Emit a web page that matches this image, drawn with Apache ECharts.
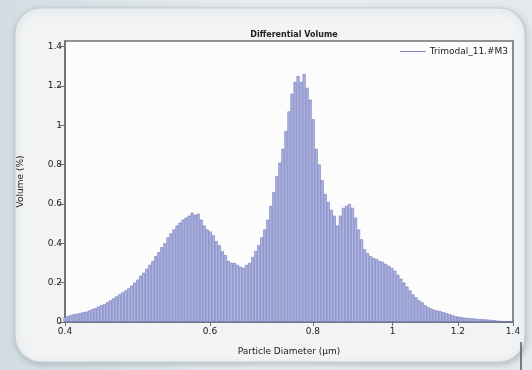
<!DOCTYPE html>
<html>
<head>
<meta charset="utf-8">
<script src="https://cdn.jsdelivr.net/npm/echarts@6/dist/echarts.min.js"></script>
<style>
  html, body { margin: 0; padding: 0; background: #e4eaed; }
  #chart { width: 532px; height: 370px; }
</style>
</head>
<body>
<div id="chart"></div>
<script>
// Bin centres of the size distribution (µm), log-spaced
const diameters = [
  0.4000, 0.4034, 0.4068, 0.4103, 0.4138, 0.4173, 0.4208, 0.4244, 0.4280, 0.4317,
  0.4353, 0.4390, 0.4428, 0.4465, 0.4503, 0.4541, 0.4580, 0.4619, 0.4658, 0.4698,
  0.4738, 0.4778, 0.4819, 0.4860, 0.4901, 0.4942, 0.4984, 0.5027, 0.5070, 0.5113,
  0.5156, 0.5200, 0.5244, 0.5289, 0.5334, 0.5379, 0.5425, 0.5471, 0.5517, 0.5564,
  0.5611, 0.5659, 0.5707, 0.5756, 0.5805, 0.5854, 0.5904, 0.5954, 0.6005, 0.6056,
  0.6107, 0.6159, 0.6211, 0.6264, 0.6317, 0.6371, 0.6425, 0.6480, 0.6535, 0.6590,
  0.6646, 0.6703, 0.6760, 0.6817, 0.6875, 0.6934, 0.6993, 0.7052, 0.7112, 0.7172,
  0.7233, 0.7295, 0.7357, 0.7419, 0.7482, 0.7546, 0.7610, 0.7675, 0.7740, 0.7806,
  0.7872, 0.7939, 0.8007, 0.8075, 0.8143, 0.8212, 0.8282, 0.8353, 0.8424, 0.8495,
  0.8567, 0.8640, 0.8714, 0.8788, 0.8862, 0.8938, 0.9014, 0.9090, 0.9168, 0.9245,
  0.9324, 0.9403, 0.9483, 0.9564, 0.9645, 0.9727, 0.9810, 0.9893, 0.9977, 1.0062,
  1.0147, 1.0234, 1.0321, 1.0408, 1.0497, 1.0586, 1.0676, 1.0767, 1.0858, 1.0951,
  1.1044, 1.1137, 1.1232, 1.1328, 1.1424, 1.1521, 1.1619, 1.1718, 1.1817, 1.1918,
  1.2019, 1.2121, 1.2224, 1.2328, 1.2433, 1.2538, 1.2645, 1.2752, 1.2861, 1.2970,
  1.3080, 1.3192, 1.3304, 1.3417, 1.3531, 1.3646, 1.3762, 1.3879
];

// Differential volume per bin (%)
const volumes = [
  0.025, 0.030, 0.035, 0.040, 0.042, 0.045, 0.050, 0.052, 0.058, 0.065,
  0.070, 0.078, 0.085, 0.090, 0.100, 0.110, 0.120, 0.130, 0.140, 0.150,
  0.160, 0.170, 0.185, 0.200, 0.215, 0.235, 0.250, 0.270, 0.290, 0.310,
  0.335, 0.355, 0.380, 0.400, 0.430, 0.450, 0.470, 0.490, 0.505, 0.520,
  0.530, 0.540, 0.555, 0.545, 0.550, 0.520, 0.490, 0.470, 0.460, 0.440,
  0.410, 0.390, 0.360, 0.340, 0.310, 0.300, 0.300, 0.290, 0.280, 0.275,
  0.290, 0.300, 0.330, 0.360, 0.390, 0.430, 0.470, 0.520, 0.590, 0.660,
  0.740, 0.810, 0.880, 0.970, 1.070, 1.160, 1.220, 1.250, 1.220, 1.260,
  1.190, 1.130, 1.030, 0.880, 0.800, 0.720, 0.650, 0.610, 0.570, 0.540,
  0.490, 0.540, 0.580, 0.590, 0.600, 0.580, 0.530, 0.470, 0.420, 0.370,
  0.350, 0.335, 0.325, 0.320, 0.310, 0.305, 0.295, 0.285, 0.275, 0.260,
  0.240, 0.220, 0.200, 0.180, 0.160, 0.140, 0.125, 0.110, 0.100, 0.085,
  0.075, 0.068, 0.062, 0.058, 0.055, 0.050, 0.045, 0.040, 0.035, 0.030,
  0.027, 0.025, 0.022, 0.020, 0.019, 0.018, 0.016, 0.015, 0.014, 0.013,
  0.012, 0.010, 0.009, 0.007, 0.006, 0.005, 0.004, 0.003
];

const xTicks = [0.4, 0.6, 0.8, 1, 1.2, 1.4];
const yTicks = [0, 0.2, 0.4, 0.6, 0.8, 1, 1.2, 1.4];

const seriesName = 'Trimodal_11.#M3';
const font = 'DejaVu Sans, Liberation Sans, sans-serif';
const textColor = '#222222';
const frameColor = '#707070';

const chart = echarts.init(document.getElementById('chart'), null, { renderer: 'canvas' });

chart.setOption({
  backgroundColor: 'transparent',
  animation: false,
  graphic: [
    {
      type: 'rect', z: -10, silent: true,
      shape: { x: 0, y: 0, width: 532, height: 370 },
      style: {
        fill: new echarts.graphic.LinearGradient(0, 0, 1, 0, [
          { offset: 0, color: '#d2dde3' },
          { offset: 0.5, color: '#e9edef' },
          { offset: 1, color: '#e4e9ec' }
        ])
      }
    },
    {
      type: 'rect', z: -9, silent: true,
      shape: { x: 15, y: 8, width: 510, height: 354, r: 26 },
      style: {
        fill: '#f1f3f4', stroke: '#c6ced2', lineWidth: 1.2,
        shadowBlur: 6, shadowColor: 'rgba(90,110,120,0.35)', shadowOffsetX: 1, shadowOffsetY: 2
      }
    },
    {
      type: 'line', z: -8, silent: true,
      shape: { x1: 521, y1: 342, x2: 521, y2: 370 },
      style: { stroke: '#4a5a66', lineWidth: 1.5 }
    }
  ],
  title: {
    text: 'Differential Volume',
    left: 289, top: 26, textAlign: 'center',
    textStyle: { fontFamily: font, fontSize: 8, fontWeight: 'bold', color: textColor }
  },
  legend: {
    right: 19, top: 42,
    itemWidth: 26, itemHeight: 1, itemGap: 4,
    icon: 'rect',
    data: [{ name: seriesName, itemStyle: { color: '#7f87c4', borderWidth: 0 } }],
    textStyle: { fontFamily: font, fontSize: 9, color: textColor, padding: [0, 0, 0, -1] }
  },
  grid: {
    left: 65, right: 19, top: 41, bottom: 48,
    show: true, backgroundColor: '#fcfcfd',
    borderColor: frameColor, borderWidth: 1.6
  },
  xAxis: {
    type: 'log', logBase: 10, min: 0.4, max: 1.4,
    name: 'Particle Diameter (µm)', nameLocation: 'middle', nameGap: 25,
    nameTextStyle: { fontFamily: font, fontSize: 9, color: textColor },
    axisLine: { show: true, lineStyle: { color: frameColor, width: 1.6 } },
    axisTick: { show: true, length: 4, customValues: xTicks, lineStyle: { color: frameColor } },
    axisLabel: {
      customValues: xTicks, margin: 5,
      fontFamily: font, fontSize: 9, color: textColor,
      formatter: v => String(+v.toFixed(2))
    },
    splitLine: { show: false },
    minorTick: { show: false }
  },
  yAxis: {
    type: 'value', min: 0, max: 1.428,
    name: 'Volume (%)', nameLocation: 'middle', nameGap: 40, nameRotate: 90,
    nameTextStyle: { fontFamily: font, fontSize: 9, color: textColor },
    axisLine: { show: true, lineStyle: { color: frameColor, width: 1.6 } },
    axisTick: { show: true, length: 6, customValues: yTicks, lineStyle: { color: frameColor } },
    axisLabel: {
      customValues: yTicks, margin: 3,
      fontFamily: font, fontSize: 9, color: textColor,
      formatter: v => String(+v.toFixed(2))
    },
    splitLine: { show: false }
  },
  series: [{
    name: seriesName,
    type: 'bar',
    barWidth: 3,
    data: diameters.map((d, i) => [d, volumes[i]]),
    itemStyle: { color: '#aeb5e0', borderColor: '#6e76b8', borderWidth: 0.6 },
    emphasis: { disabled: true }
  }]
});
</script>
</body>
</html>
